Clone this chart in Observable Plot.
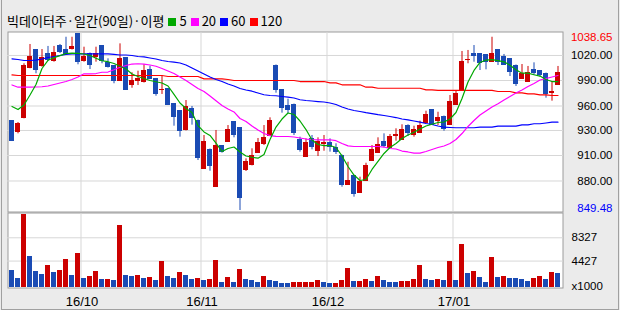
<!DOCTYPE html>
<html><head><meta charset="utf-8">
<script src="https://cdn.jsdelivr.net/npm/d3@7"></script>
<script src="https://cdn.jsdelivr.net/npm/@observablehq/plot@0.6"></script>
<style>
html,body{margin:0;padding:0;background:#ebebeb;}
#wrap{position:relative;width:620px;height:310px;background:#ebebeb;overflow:hidden;}
#title{position:absolute;left:7px;top:12px;font-family:"Noto Sans CJK KR";font-size:13px;line-height:18px;color:#000;white-space:nowrap;}
.sw{display:inline-block;width:8px;height:8px;margin:0 3px 0 4px;vertical-align:0px;}
#price,#vol{position:absolute;left:0;}
#price{top:0;} #vol{top:212px;}
#border{position:absolute;left:1px;top:-1px;width:616px;height:309px;border:1px solid #a0a0a0;pointer-events:none;}
</style></head>
<body>
<div id="wrap">
  <div id="title"></div>
  <div id="price"></div>
  <div id="vol"></div>
  <div id="border"></div>
</div>
<script>
// ---- data (prices in index points, volume in thousands) ----
const open = [945.5,933.6,948.7,1002.4,1021.5,1004.6,1017.2,1010.0,1026.8,1022.5,
1022.9,1038.65,1010.7,1017.9,1014.3,1025.8,1007.8,1004.6,989.2,1013.6,
984.9,988.5,987.1,1000.0,991.0,978.5,980.3,964.2,955.9,935.5,
958.8,946.2,893.9,915.0,874.5,918.3,923.6,944.1,937.9,892.5,
897.9,911.8,921.2,929.8,1005.3,979.2,961.3,963.4,925.5,907.5,
926.1,913.2,921.3,921.8,916.9,908.6,877.4,886.3,868.8,881.0,
903.2,911.1,922.9,916.9,929.6,925.5,940.1,930.1,932.6,943.8,
957.0,946.2,950.5,941.9,963.4,978.5,1011.0,1017.2,1017.9,1016.1,
1008.9,1021.5,1015.0,1011.8,1005.3,990.6,987.4,1001.0,998.9,996.7,
976.2,984.9];
const close = [924.7,942.7,1004.3,1015.0,1001.0,1013.6,1011.5,1019.3,1019.6,1017.9,
1025.0,1008.9,1014.3,1006.1,1017.2,1010.7,1003.5,989.2,1012.5,979.2,
989.2,991.0,998.9,991.0,974.2,979.2,963.4,950.5,934.7,960.2,
948.4,905.4,923.6,896.8,918.3,912.2,935.5,930.1,862.7,901.1,
908.6,921.8,927.2,946.2,979.2,959.4,957.0,932.6,914.0,921.8,
917.5,922.9,921.8,917.5,912.2,876.4,881.7,866.7,879.9,896.8,
914.0,920.4,919.3,928.3,930.1,936.5,932.6,935.5,940.1,951.6,
941.9,948.4,936.9,965.9,974.2,1009.6,1011.5,1015.3,1007.8,1008.9,
1017.2,1008.9,1006.1,998.1,985.7,995.7,997.8,997.1,994.6,974.2,
976.6,997.8];
const high = [946.2,944.1,1007.2,1027.9,1022.0,1022.5,1025.8,1025.8,1027.9,1035.7,
1035.7,1038.65,1025.0,1018.8,1025.0,1026.3,1012.5,1005.3,1028.6,1013.9,
997.5,999.2,1006.1,1004.6,991.4,993.5,980.6,964.5,956.2,967.7,
961.3,946.7,930.1,915.6,935.5,918.8,940.8,944.6,938.2,905.0,
915.8,926.9,940.8,949.1,1005.9,979.5,969.1,963.9,928.3,926.5,
930.1,927.6,930.1,926.5,921.2,909.1,901.4,886.5,885.3,900.3,
919.3,927.6,931.9,931.2,937.3,941.6,941.6,940.1,945.5,956.2,
957.5,955.1,951.0,973.1,977.7,1020.4,1021.5,1026.8,1018.2,1016.6,
1035.7,1022.0,1017.2,1012.3,1005.9,1006.4,1004.3,1008.2,999.4,997.2,
988.1,1004.3];
const low = [923.6,931.9,948.0,1001.8,996.4,1003.5,1009.6,1008.9,1018.2,1016.1,
1022.0,1006.1,1008.9,1001.0,1008.9,1007.2,1002.6,985.7,988.7,978.5,
980.9,983.8,986.5,990.3,972.3,974.2,962.3,940.1,928.3,935.0,
941.2,903.2,893.6,891.7,874.2,911.1,923.1,927.6,849.48,891.4,
897.4,911.3,919.3,929.6,975.6,954.1,953.4,930.1,912.2,907.0,
914.7,907.5,913.2,912.2,909.7,874.5,876.9,863.8,868.3,880.7,
902.7,910.8,916.9,916.7,924.0,925.3,929.0,928.3,932.2,943.6,
940.8,940.8,934.7,941.3,962.9,978.0,1007.2,1008.9,999.95,1000.7,
1008.6,1005.3,1005.9,993.5,982.8,990.3,987.1,994.6,992.8,970.2,
967.0,983.8];
const volume = [2850,1510,12230,5190,2680,2180,3690,2510,2850,4690,
2010,5700,1510,1840,2680,1340,1360,1170,10390,2010,
1840,2010,1510,1680,1170,4360,1840,1510,2510,2010,
1340,1510,1170,1340,4520,840,1680,840,3020,1340,
1170,840,1840,1170,1000,680,670,830,840,850,
860,1170,840,670,680,1170,3180,1000,1010,1340,
1000,1840,1170,840,830,1000,1010,1340,3690,1340,
1170,1340,1170,4360,1170,7200,2350,2680,1680,840,
5030,1680,1840,1510,1500,1340,1000,1510,1840,1340,
2510,2350];
const ma5 = [961.3,958.0,962.9,973.6,984.9,1002.1,1010.9,1013.8,1015.9,1018.2,
1018.6,1018.4,1017.7,1016.1,1013.2,1010.4,1009.4,1007.5,1004.5,1001.6,
996.2,993.5,991.4,989.2,987.9,986.5,983.3,974.2,965.0,959.1,
954.8,940.8,933.9,930.1,922.0,912.9,916.1,917.7,912.4,908.1,
906.7,905.7,909.7,925.8,939.2,947.8,954.3,952.7,945.7,936.5,
925.3,920.4,919.3,919.3,917.2,908.1,896.8,887.6,881.7,882.8,
893.6,902.2,910.8,917.2,921.5,926.9,930.6,933.6,937.1,940.3,
942.2,944.1,944.6,947.8,954.8,969.9,987.6,1000.0,1008.6,1011.2,
1011.6,1010.5,1009.3,1005.7,1000.7,997.1,997.1,995.4,994.0,990.3,
988.1,988.1];
const ma20 = [984.4,982.0,982.0,982.0,982.2,982.5,983.3,984.9,986.5,988.1,
990.3,993.0,996.4,996.4,996.7,998.1,998.3,1000.7,1003.4,1005.3,
1006.9,1007.2,1006.9,1005.9,1004.5,1002.1,999.4,996.7,993.0,989.2,
984.9,980.6,977.4,972.6,967.4,962.3,958.6,955.4,948.4,945.1,
940.3,936.0,932.2,929.9,929.2,929.0,929.0,928.5,927.4,926.3,
925.8,925.5,925.5,925.5,924.5,921.5,919.0,918.3,918.3,918.3,
918.3,918.3,917.7,916.1,915.6,913.4,912.4,911.1,911.1,912.9,
915.0,917.2,918.8,921.5,925.8,932.2,939.8,946.2,952.1,956.4,
960.7,964.2,968.3,972.0,975.8,979.0,982.8,986.0,989.7,991.4,
993.0,994.6];
const ma60 = [1012.5,1011.8,1010.7,1010.7,1011.2,1012.3,1013.9,1015.0,1016.1,1017.2,
1017.9,1017.9,1017.9,1017.9,1017.9,1017.9,1017.9,1017.2,1016.6,1016.6,
1016.1,1015.0,1014.5,1013.4,1012.3,1010.7,1009.6,1008.9,1008.0,1005.9,
1002.6,999.4,996.2,993.0,990.3,988.1,985.4,983.3,980.6,979.0,
977.7,975.8,973.9,973.1,972.8,972.0,971.3,970.4,968.5,967.7,
967.2,966.6,966.1,965.0,963.4,960.7,958.6,957.0,955.9,954.6,
953.7,952.5,951.6,950.5,949.4,947.8,946.8,945.7,944.4,943.0,
941.9,940.3,939.0,938.7,938.4,938.4,938.4,938.4,939.0,939.0,
939.0,940.1,940.1,940.1,940.1,941.6,941.6,942.7,942.7,943.5,
944.4,944.4];
const ma120 = [995.3,994.6,994.6,994.6,994.6,994.6,994.6,994.6,994.6,994.6,
994.6,994.6,994.6,994.6,994.6,994.6,994.6,994.6,994.6,994.6,
994.6,994.6,994.6,994.6,994.6,994.6,993.5,993.5,993.5,993.5,
993.5,993.5,991.0,991.0,991.0,991.0,990.3,989.2,989.2,989.2,
989.2,989.2,989.2,989.2,989.2,989.2,989.2,989.2,988.1,988.1,
988.1,988.1,988.1,986.7,986.7,984.6,984.6,984.6,984.6,982.0,
982.0,980.9,980.9,980.9,980.9,980.9,980.9,980.9,980.9,979.2,
979.2,978.5,978.5,978.5,978.5,978.5,978.5,978.5,978.5,978.5,
978.5,977.4,977.4,977.4,976.0,976.0,974.9,974.9,973.8,973.8,
973.1,973.1];
const monthStart = [12, 32, 53, 74];          // first trading day index of each month
const monthLabels = ["16/10", "16/11", "16/12", "17/01"];
const priceTicks = [1016.1, 989.2, 961.8, 935.5, 908.6, 881.2];
const priceTickLabels = ["1020.00", "990.00", "960.00", "930.00", "910.00", "880.00"];
const volTicks = [4427, 8327];
const priceMax = 1038.65, priceMin = 849.48;
const titleText = "빅데이터주·일간(90일)·이평";
const maNames = ["5", "20", "60", "120"];
const maColors = ["#00a800", "#ff00ff", "#0000ff", "#ff0000"];

// ---- build ----
const RED = "#cc0000", BLUE = "#1a4bb4";
const n = open.length;
const idx = d3.range(n);
const candles = idx.map(i => ({i, o: open[i], h: high[i], l: low[i], c: close[i], up: close[i] >= open[i]}));
const vols = idx.map(i => ({i, v: volume[i], up: i > 0 && volume[i] > volume[i - 1]}));
const xDomain = [-0.75, n - 1 / 12];
const HW = 5 / 12;
const FONT = "Liberation Sans, Arial, sans-serif";

const t = document.getElementById("title");
t.appendChild(document.createTextNode(titleText));
maNames.forEach((nm, k) => {
  const s = document.createElement("span");
  s.className = "sw"; s.style.background = maColors[k];
  t.appendChild(s);
  t.appendChild(document.createTextNode(nm));
});

const grid = "#d7d7d7";
const price = Plot.plot({
  width: 620, height: 212,
  marginTop: 31, marginBottom: 0, marginLeft: 7, marginRight: 57,
  x: {type: "linear", domain: xDomain, axis: null},
  y: {type: "linear", domain: [847.34, 1041.87], axis: null},
  color: {type: "identity"},
  style: {background: "transparent", overflow: "visible"},
  marks: [
    Plot.frame({fill: "white", stroke: "#9c9c9c", inset: 0.5}),
    Plot.gridY(priceTicks, {stroke: grid, strokeOpacity: 1}),
    Plot.ruleX(monthStart, {x: d => d - 0.5, stroke: grid, strokeOpacity: 1, insetTop: 1, insetBottom: 1}),
    Plot.ruleX(candles, {x: "i", y1: "l", y2: "h", stroke: d => d.up ? RED : BLUE, strokeWidth: 1}),
    Plot.rect(candles, {x1: d => d.i - HW, x2: d => d.i + HW, y1: d => Math.min(d.o, d.c), y2: d => Math.max(d.o, d.c),
      fill: d => d.up ? RED : BLUE, insetTop: -0.5, insetBottom: -0.5, shapeRendering: "crispEdges"}),
    Plot.line(idx, {x: d => d, y: d => ma120[d], stroke: maColors[3], strokeWidth: 1.2}),
    Plot.line(idx, {x: d => d, y: d => ma60[d], stroke: maColors[2], strokeWidth: 1.2}),
    Plot.line(idx, {x: d => d, y: d => ma20[d], stroke: maColors[1], strokeWidth: 1.2}),
    Plot.line(idx, {x: d => d, y: d => ma5[d], stroke: maColors[0], strokeWidth: 1.2}),
    Plot.text(priceTicks, {y: d => d, text: (d, i) => priceTickLabels[i], frameAnchor: "right", dx: 49,
      textAnchor: "end", lineAnchor: "middle", fill: "#000", fontSize: 11.5, fontFamily: FONT}),
    Plot.text([priceMax], {y: d => d, text: d => d.toFixed(2), frameAnchor: "right", dx: 49, dy: 3,
      textAnchor: "end", lineAnchor: "middle", fill: "#ff0000", fontSize: 11.5, fontFamily: FONT}),
    Plot.text([priceMin], {y: d => d, text: d => d.toFixed(2), frameAnchor: "right", dx: 49, dy: -2,
      textAnchor: "end", lineAnchor: "middle", fill: "#0000ff", fontSize: 11.5, fontFamily: FONT})
  ]
});
document.getElementById("price").appendChild(price);

const vol = Plot.plot({
  width: 620, height: 98,
  marginTop: 0, marginBottom: 22, marginLeft: 7, marginRight: 57,
  x: {type: "linear", domain: xDomain, axis: null},
  y: {type: "linear", domain: [-167.5, 12562.5], axis: null},
  color: {type: "identity"},
  style: {background: "transparent", overflow: "visible"},
  marks: [
    Plot.frame({fill: "white", stroke: "#9c9c9c", inset: 0.5}),
    Plot.gridY(volTicks, {stroke: grid, strokeOpacity: 1}),
    Plot.ruleX(monthStart, {x: d => d - 0.5, stroke: grid, strokeOpacity: 1, insetTop: 1, insetBottom: 1}),
    Plot.rect(vols, {x1: d => d.i - HW, x2: d => d.i + HW, y1: 0, y2: "v",
      fill: d => d.up ? RED : BLUE, shapeRendering: "crispEdges"}),
    Plot.text(volTicks, {y: d => d, text: d => String(d), frameAnchor: "right", dx: 8,
      textAnchor: "start", lineAnchor: "middle", fill: "#000", fontSize: 11.5, fontFamily: FONT}),
    Plot.text(["x1000"], {text: d => d, frameAnchor: "bottom-right", dx: 8, dy: -2,
      textAnchor: "start", lineAnchor: "middle", fill: "#000", fontSize: 11.5, fontFamily: FONT}),
    Plot.text(monthLabels, {x: (d, i) => monthStart[i] - 0.5, text: d => d, frameAnchor: "bottom", dy: 13, dx: 1,
      textAnchor: "middle", lineAnchor: "middle", fill: "#000", fontSize: 13, fontFamily: FONT})
  ]
});
document.getElementById("vol").appendChild(vol);
</script>
</body></html>
